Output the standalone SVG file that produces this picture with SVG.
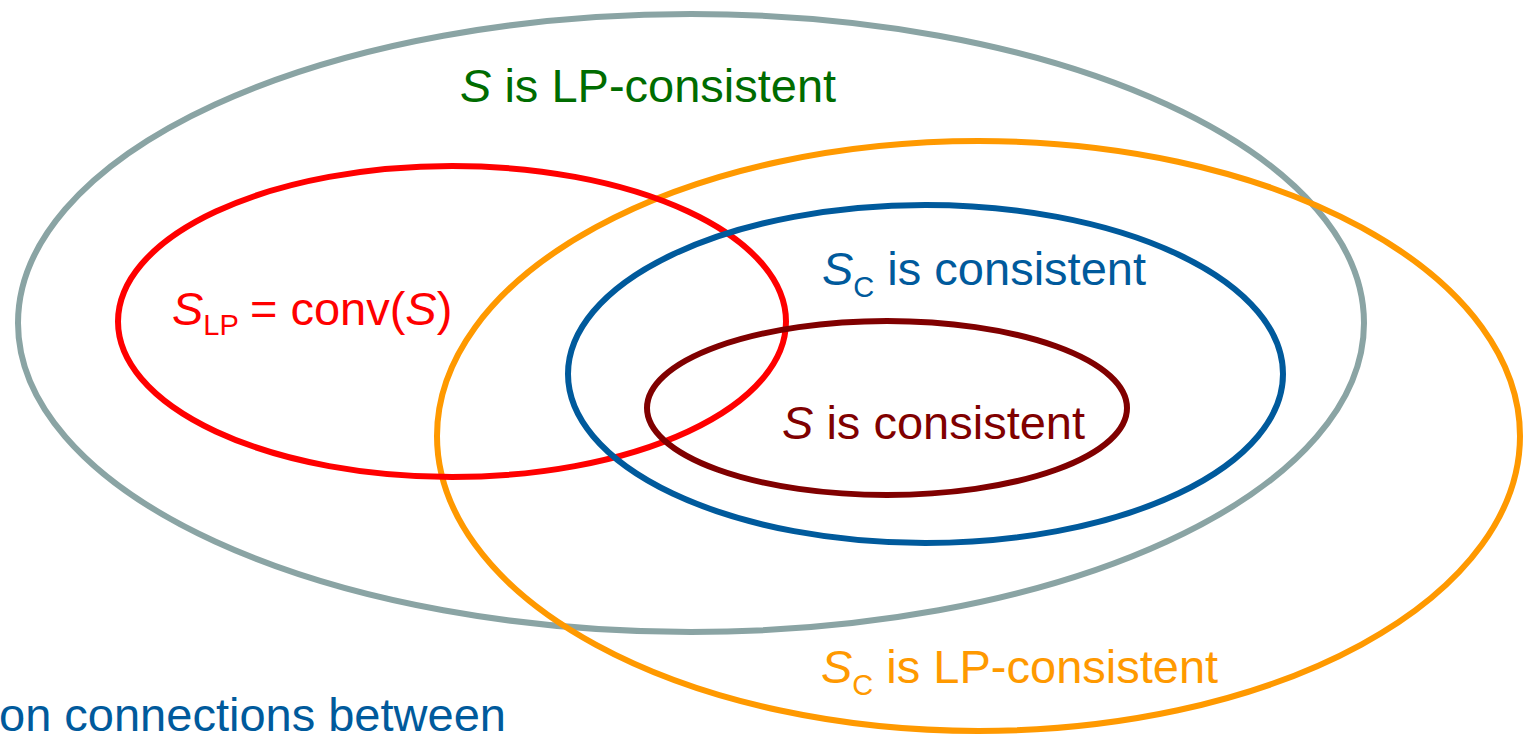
<svg xmlns="http://www.w3.org/2000/svg" width="1524" height="737" viewBox="0 0 1524 737">
<style>
  .e { fill: none; stroke-width: 6; }
  .t { font-family: "Liberation Sans", Arial, sans-serif; font-size: 47px; }
  .sub { font-size: 29px; }
  .i { font-style: italic; }
</style>
<rect width="1524" height="737" fill="#ffffff"/>
<g id="lp-consistent">
  <ellipse class="e" cx="691" cy="323" rx="673" ry="309" stroke="#8AA4A4"/>
  <text class="t" x="460" y="102" fill="#006C00"><tspan class="i">S</tspan> is LP-consistent</text>
</g>
<g id="sc-lp-consistent">
  <ellipse class="e" cx="978.5" cy="436" rx="541.5" ry="295" stroke="#FF9900"/>
  <text class="t" x="821" y="683" fill="#FF9900"><tspan class="i">S</tspan><tspan class="sub" dy="12">C</tspan><tspan dy="-12"> is LP-consistent</tspan></text>
</g>
<g id="slp-conv">
  <ellipse class="e" cx="452" cy="321.5" rx="334" ry="155.5" stroke="#FF0000"/>
  <text class="t" x="172" y="325" fill="#FF0000"><tspan class="i">S</tspan><tspan class="sub" dy="10">LP</tspan><tspan dy="-10" dx="-2"> = conv(</tspan><tspan class="i">S</tspan>)</text>
</g>
<g id="sc-consistent">
  <ellipse class="e" cx="925.5" cy="374" rx="357.5" ry="169" stroke="#005A9C"/>
  <text class="t" x="822" y="285" fill="#005A9C"><tspan class="i">S</tspan><tspan class="sub" dy="12">C</tspan><tspan dy="-12"> is consistent</tspan></text>
</g>
<g id="s-consistent">
  <ellipse class="e" cx="887" cy="408" rx="240" ry="87" stroke="#800000"/>
  <text class="t" x="782" y="439" fill="#800000"><tspan class="i">S</tspan> is consistent</text>
</g>
<g id="connectors"></g>
<text class="t" x="-1" y="731" fill="#005A9C">on connections between</text>
</svg>
